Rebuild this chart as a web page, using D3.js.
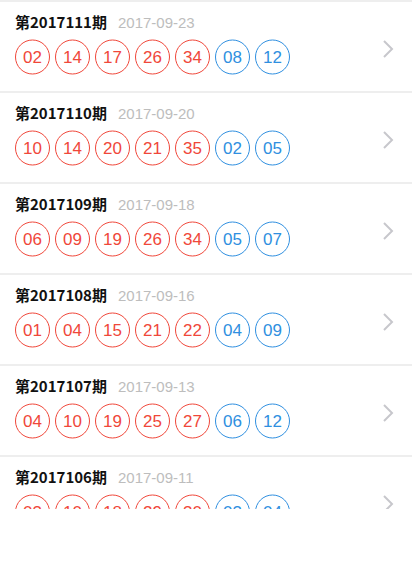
<!DOCTYPE html><html><head><meta charset="utf-8">
<script src="https://cdn.jsdelivr.net/npm/d3@7"></script>
<style>body{margin:0;background:#fff}</style></head><body>
<script>
const issues=["第2017111期","第2017110期","第2017109期","第2017108期","第2017107期","第2017106期"];
const dates=["2017-09-23","2017-09-20","2017-09-18","2017-09-16","2017-09-13","2017-09-11"];
const redBalls=[["02","14","17","26","34"],["10","14","20","21","35"],["06","09","19","26","34"],["01","04","15","21","22"],["04","10","19","25","27"],["03","10","18","29","30"]];
const blueBalls=[["08","12"],["02","05"],["05","07"],["04","09"],["06","12"],["03","04"]];
const W=412,H=582,rowH=91;
const svg=d3.select("body").append("svg").attr("width",W).attr("height",H).style("font-family","'Noto Sans CJK SC',sans-serif");
svg.append("defs").append("clipPath").attr("id","c").append("rect").attr("width",W).attr("height",509);
const g=svg.append("g").attr("clip-path","url(#c)");
const y=d3.scaleLinear().domain([0,1]).range([1,1+rowH]);
const x=d3.scaleLinear().domain([0,1]).range([32.5,72.5]);
g.append("line").attr("x1",0).attr("x2",W).attr("y1",1).attr("y2",1).attr("stroke","#ddd");
issues.forEach((t,i)=>{
  const r=g.append("g").attr("transform",`translate(0,${y(i)})`);
  const tt=r.append("text").attr("x",15).attr("y",27).attr("font-size",15).attr("font-weight","bold").attr("fill","#111").text(t);
  const w=tt.node().getComputedTextLength();
  r.append("text").attr("x",15+w+11).attr("y",27).attr("font-size",15).attr("fill","#bdbdbd").attr("font-family","'Liberation Sans',sans-serif").text(dates[i]);
  const balls=redBalls[i].map(v=>({v,c:"#f0473a"})).concat(blueBalls[i].map(v=>({v,c:"#2f8fe0"})));
  balls.forEach((b,j)=>{
    r.append("circle").attr("cx",x(j)).attr("cy",56).attr("r",17).attr("fill","none").attr("stroke",b.c).attr("stroke-width",1);
    r.append("text").attr("x",x(j)).attr("y",62).attr("text-anchor","middle").attr("font-size",17).attr("fill",b.c).attr("font-family","'Liberation Sans',sans-serif").text(b.v);
  });
  r.append("path").attr("d","M384,40 L392,48 L384,56").attr("fill","none").attr("stroke","#c7c7cc").attr("stroke-width",2);
  r.append("line").attr("x1",0).attr("x2",W).attr("y1",rowH).attr("y2",rowH).attr("stroke","#ddd");
});
</script></body></html>
